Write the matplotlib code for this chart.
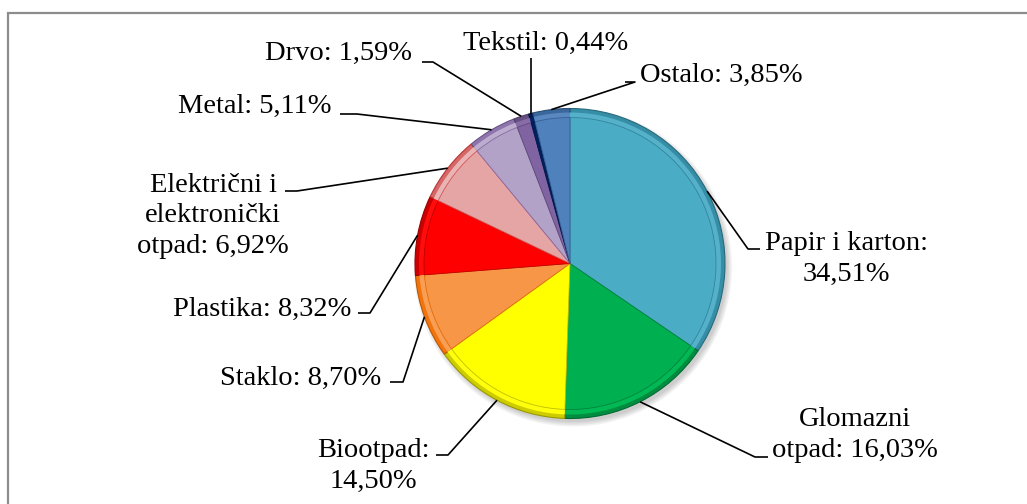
import matplotlib
matplotlib.use("Agg")
import matplotlib.pyplot as plt
from matplotlib.patches import Rectangle, Circle
import numpy as np
import colorsys
from matplotlib.colors import to_rgb

categories = ["Papir i karton", "Glomazni otpad", "Biootpad", "Staklo", "Plastika",
              "Električni i elektronički otpad", "Metal", "Drvo", "Tekstil", "Ostalo"]
values = [34.51, 16.03, 14.50, 8.70, 8.32, 6.92, 5.11, 1.59, 0.44, 3.85]
label_texts = ["Papir i karton:\n34,51%", "Glomazni\notpad: 16,03%", "Biootpad:\n14,50%",
               "Staklo: 8,70%", "Plastika: 8,32%", "Električni i\nelektronički\notpad: 6,92%",
               "Metal: 5,11%", "Drvo: 1,59%", "Tekstil: 0,44%", "Ostalo: 3,85%"]
colors = ["#4BACC6", "#00B050", "#FFFF00", "#F79646", "#FF0000",
          "#E6A5A5", "#B3A2C7", "#8064A2", "#002060", "#4F81BD"]

W, H = 1027, 504
fig = plt.figure(figsize=(W / 100, H / 100), dpi=100)
ax = fig.add_axes([0, 0, 1, 1])

def Y(py):
    return H - py

cx, cy, R = 570, Y(263.5), 155

def shade(c, f):
    r, g, b = to_rgb(c)
    h, l, s = colorsys.rgb_to_hls(r, g, b)
    return colorsys.hls_to_rgb(h, max(0, min(1, l * f)), s)

# soft shadow
for i in range(4):
    ax.add_patch(Circle((cx + 3, cy - 4), R + 4 - i * 1.5, color="black", alpha=0.05, lw=0))

rim_cols = [shade(c, 0.8) for c in colors]
wedges, _ = ax.pie(values, colors=rim_cols, startangle=90, counterclock=False,
                   center=(cx, cy), radius=R, frame=True,
                   wedgeprops=dict(linewidth=0.8))
for w, c in zip(wedges, colors):
    w.set_edgecolor(shade(c, 0.6))
ax.pie(values, colors=[shade(c, 1.05) for c in colors], startangle=90, counterclock=False,
       center=(cx, cy), radius=R - 4, frame=True, wedgeprops=dict(linewidth=0))
inner, _ = ax.pie(values, colors=colors, startangle=90, counterclock=False,
                  center=(cx, cy), radius=R - 9, frame=True, wedgeprops=dict(linewidth=0.6))
for w, c in zip(inner, colors):
    w.set_edgecolor(shade(c, 0.75))
ax.set_xlim(0, W)
ax.set_ylim(0, H)
ax.set_aspect("equal")
ax.axis("off")

# outer border
ax.add_patch(Rectangle((8, Y(600)), 1100, 600 - 12.5, fill=False, edgecolor="#8c8c8c",
                       lw=1.6, clip_on=False))

font = dict(family="Liberation Serif", size=20.5, color="black")

# layout: (text x, text y, ha, elbow point, end point) in pixels from top-left
layout = [
    (765, 259, "left", (748, 249), (760, 249)),
    (772, 435, "left", (755, 457), (768, 457)),
    (430, 466, "right", (448, 455), (436, 455)),
    (381, 378, "right", (403, 382), (390, 382)),
    (351, 309, "right", (370, 313), (358, 313)),
    (213, 216, "center", (297, 191), (285, 191)),
    (332, 106, "right", (357, 114), (340, 114)),
    (412, 53, "right", (433, 62), (422, 62)),
    (546, 43, "center", None, (None, 58)),
    (640, 75, "left", (635, 82), (625, 82)),
]

for w, txt, (tx, ty, ha, elbow, end) in zip(wedges, label_texts, layout):
    mid = np.deg2rad((w.theta1 + w.theta2) / 2)
    axp, ayp = cx + R * np.cos(mid), cy + R * np.sin(mid)
    if elbow is None:
        xs = [axp, axp]
        ys = [ayp, Y(end[1])]
    else:
        xs = [axp, elbow[0], end[0]]
        ys = [ayp, Y(elbow[1]), Y(end[1])]
    ax.plot(xs, ys, color="black", lw=1.2, solid_capstyle="butt", zorder=5)
    ax.text(tx, Y(ty), txt, ha=ha, va="center", multialignment="center",
            linespacing=1.27, **font)

fig.savefig("out.png", dpi=100, facecolor="white")
